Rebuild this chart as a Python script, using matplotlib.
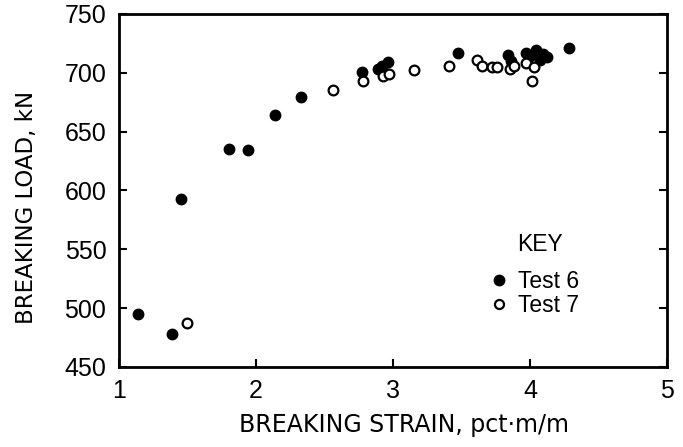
import matplotlib
matplotlib.use("Agg")
import matplotlib.pyplot as plt
from matplotlib.lines import Line2D

plt.rcParams['font.family'] = ['Liberation Sans', 'DejaVu Sans']

test6_x = [1.14, 1.39, 1.45, 1.80, 1.94, 2.14, 2.33, 2.77, 2.89, 2.92, 2.96,
           3.47, 3.84, 3.86, 3.97, 4.00, 4.04, 4.07, 4.09, 4.12, 4.28]
test6_y = [495, 478, 593, 635, 634, 664, 679, 701, 703, 706, 709,
           717, 715, 710, 717, 714, 719, 711, 716, 713, 721]

test7_x = [1.50, 2.56, 2.78, 2.93, 2.97, 3.15, 3.41, 3.61, 3.65, 3.72, 3.76,
           3.85, 3.88, 3.97, 4.03, 4.01]
test7_y = [487, 685, 693, 697, 699, 702, 706, 711, 706, 705, 705,
           703, 706, 708, 705, 693]

xticks = [1, 2, 3, 4, 5]
yticks = [450, 500, 550, 600, 650, 700, 750]

fig = plt.figure(figsize=(6.83, 4.47), dpi=100)
ax = fig.add_axes([0.174, 0.179, 0.803, 0.790])

ax.plot(test6_x, test6_y, 'o', color='black', markersize=7.5, linestyle='none')
ax.plot(test7_x, test7_y, 'o', markerfacecolor='white', markeredgecolor='black',
        markeredgewidth=1.6, markersize=7, linestyle='none')

ax.set_xlim(1, 5)
ax.set_ylim(450, 750)
ax.set_xticks(xticks)
ax.set_yticks(yticks)
ax.tick_params(direction='in', length=6, width=1.5, labelsize=18, pad=9,
               right=True, top=False)
for s in ax.spines.values():
    s.set_linewidth(2)

ax.set_xlabel('BREAKING STRAIN, pct\u00b7m/m', fontsize=17, family=['DejaVu Sans'])
ax.set_ylabel('BREAKING LOAD, kN', fontsize=16.5, family=['DejaVu Sans'])
ax.xaxis.set_label_coords(0.52, -0.13)
ax.yaxis.set_label_coords(-0.148, 0.453)

ax.text(0.768, 0.346, 'KEY', transform=ax.transAxes, fontsize=16.5,
        ha='center', va='center')
handles = [Line2D([], [], marker='o', color='black', linestyle='none', markersize=7.5),
           Line2D([], [], marker='o', markerfacecolor='white', markeredgecolor='black',
                  markeredgewidth=1.6, markersize=6.5, linestyle='none')]
ax.legend(handles, ['Test 6', 'Test 7'], frameon=False,
          loc='center left', bbox_to_anchor=(0.652, 0.207), fontsize=16.5,
          handletextpad=0.3, handlelength=1.0, labelspacing=0.05, borderpad=0)

fig.savefig('out.png', dpi=100)
